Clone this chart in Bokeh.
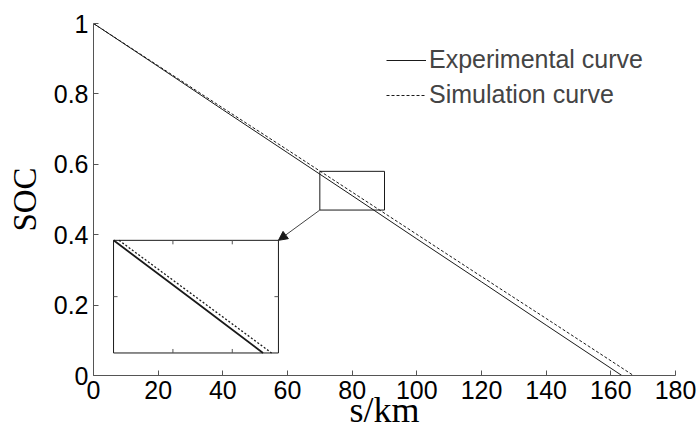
from bokeh.plotting import figure
from bokeh.models import (FixedTicker, Legend, LegendItem, Arrow, NormalHead, Range1d)
from bokeh.embed import file_html
from bokeh.resources import INLINE

# ---- data ----
exp_s = [0, 20, 40, 60, 80, 100, 120, 140, 163.4]
exp_soc = [1.0, 0.878, 0.755, 0.633, 0.511, 0.388, 0.266, 0.143, 0.0]
sim_s = [0, 20, 40, 60, 80, 100, 120, 140, 167.0]
sim_soc = [1.0, 0.880, 0.760, 0.641, 0.521, 0.401, 0.281, 0.162, 0.0]

x_ticks = [0, 20, 40, 60, 80, 100, 120, 140, 160, 180]
y_ticks = [0, 0.2, 0.4, 0.6, 0.8, 1.0]
y_tick_labels = ["0", "0.2", "0.4", "0.6", "0.8", "1"]

# zoom rectangle drawn on the main axes (data)
win_x = [70, 90]
win_y = [0.47, 0.58]
# region of the curves that the inset magnifies (data)
src_x = [60, 100]
src_y = [0.411, 0.633]
# inset placement (data coords of main axes)
inset_x = [6.2, 57.2]
inset_y = [0.064, 0.384]

INK = "#1a1a1a"
AXIS = "#555555"

p = figure(width=697, height=432, output_backend="svg", toolbar_location=None,
           x_range=Range1d(0, 180), y_range=Range1d(0, 1),
           min_border_left=93, min_border_right=22, min_border_top=23, min_border_bottom=57)
p.outline_line_color = None
p.grid.visible = False
p.background_fill_color = "white"

for ax in (p.xaxis[0], p.yaxis[0]):
    ax.major_tick_in = 5
    ax.major_tick_out = 0
    ax.minor_tick_line_color = None
    ax.axis_line_color = AXIS
    ax.major_tick_line_color = AXIS
    ax.major_label_text_font = "Liberation Sans"
    ax.major_label_text_font_size = "25px"
    ax.major_label_text_color = "black"
    ax.axis_label_text_font = "Liberation Serif"
    ax.axis_label_text_font_style = "normal"
    ax.axis_label_text_color = "black"

p.xaxis[0].axis_label_text_font_size = "36px"
p.yaxis[0].axis_label_text_font_size = "33px"
p.xaxis[0].ticker = FixedTicker(ticks=x_ticks)
p.yaxis[0].ticker = FixedTicker(ticks=y_ticks)
p.yaxis[0].major_label_overrides = {t: l for t, l in zip(y_ticks, y_tick_labels)}
p.xaxis[0].major_label_standoff = 5
p.yaxis[0].major_label_standoff = 5
p.xaxis[0].axis_label = "s/km"
p.yaxis[0].axis_label = "SOC"
p.xaxis[0].major_label_text_line_height = 0.8
p.xaxis[0].axis_label_text_line_height = 0.7
p.xaxis[0].axis_label_standoff = -12
p.yaxis[0].axis_label_standoff = 8

r_exp = p.line(exp_s, exp_soc, line_color=INK, line_width=1)
r_sim = p.line(sim_s, sim_soc, line_color=INK, line_width=1, line_dash="3 2")

# zoom rectangle in main plot
p.quad(left=[win_x[0]], right=[win_x[1]], bottom=[win_y[0]], top=[win_y[1]],
       fill_color=None, line_color=INK, line_width=1)

# inset box
p.quad(left=[inset_x[0]], right=[inset_x[1]], bottom=[inset_y[0]], top=[inset_y[1]],
       fill_color="white", line_color=INK, line_width=1)


def clip_seg(x0, y0, x1, y1):
    dx, dy = x1 - x0, y1 - y0
    t0, t1 = 0.0, 1.0
    for pp, q in ((-dx, x0 - src_x[0]), (dx, src_x[1] - x0),
                  (-dy, y0 - src_y[0]), (dy, src_y[1] - y0)):
        if pp == 0:
            if q < 0:
                return None
        else:
            t = q / pp
            if pp < 0:
                t0 = max(t0, t)
            else:
                t1 = min(t1, t)
    if t0 > t1:
        return None
    return (x0 + t0 * dx, y0 + t0 * dy, x0 + t1 * dx, y0 + t1 * dy)


def to_inset(x, y):
    ix = inset_x[0] + (x - src_x[0]) / (src_x[1] - src_x[0]) * (inset_x[1] - inset_x[0])
    iy = inset_y[0] + (y - src_y[0]) / (src_y[1] - src_y[0]) * (inset_y[1] - inset_y[0])
    return ix, iy


def inset_path(xs, ys):
    px, py = [], []
    for i in range(len(xs) - 1):
        c = clip_seg(xs[i], ys[i], xs[i + 1], ys[i + 1])
        if c is None:
            continue
        a = to_inset(c[0], c[1])
        b = to_inset(c[2], c[3])
        if not px:
            px.append(a[0]); py.append(a[1])
        px.append(b[0]); py.append(b[1])
    return px, py


ex, ey = inset_path(exp_s, exp_soc)
sx, sy = inset_path(sim_s, sim_soc)
p.line(ex, ey, line_color=INK, line_width=1.8)
p.line(sx, sy, line_color=INK, line_width=1.3, line_dash="2 2")

# inset ticks (inward, small)
ix0, ix1 = inset_x
iy0, iy1 = inset_y
tlx = 4 / 3.236
tly = 4 / 352.0
tx = [ix0 + f * (ix1 - ix0) for f in (0.36, 0.72)]
ty = [iy0 + 0.5 * (iy1 - iy0)]
p.segment(x0=tx + tx, y0=[iy0] * len(tx) + [iy1] * len(tx),
          x1=tx + tx, y1=[iy0 + tly] * len(tx) + [iy1 - tly] * len(tx),
          line_color=AXIS, line_width=1)
p.segment(x0=[ix0, ix1], y0=ty + ty, x1=[ix0 + tlx, ix1 - tlx], y1=ty + ty,
          line_color=AXIS, line_width=1)

# arrow from zoom window to inset
p.add_layout(Arrow(end=NormalHead(size=9, fill_color=INK, line_color=INK),
                   x_start=win_x[0], y_start=win_y[0], x_end=inset_x[1], y_end=inset_y[1],
                   line_color="#444444", line_width=1))

legend = Legend(items=[LegendItem(label="Experimental curve", renderers=[r_exp]),
                       LegendItem(label="Simulation curve", renderers=[r_sim])],
                location=(293, 266))
legend.border_line_color = None
legend.background_fill_alpha = 0
legend.label_text_font = "Liberation Sans"
legend.label_text_font_size = "25px"
legend.glyph_width = 40
legend.label_standoff = 3
legend.padding = 4
legend.spacing = 6
legend.margin = 0
p.add_layout(legend)

open("out.html", "w").write(file_html(p, INLINE))
